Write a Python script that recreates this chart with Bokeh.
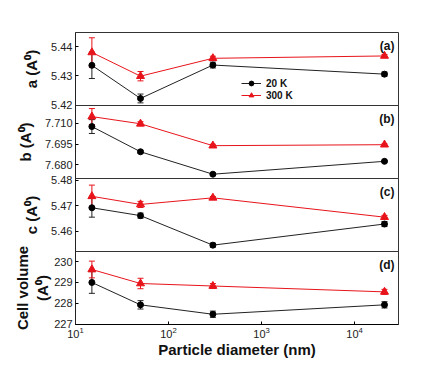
from bokeh.plotting import figure
from bokeh.models import (Range1d, FixedTicker, Whisker, ColumnDataSource, Label,
                          Legend, LegendItem, TeeHead)
from bokeh.layouts import column
from bokeh.embed import file_html
from bokeh.resources import INLINE

# ---- data ----
diam = [15, 50, 300, 21000]

a_20 = [5.4336, 5.4223, 5.4337, 5.4306]
a_20_err = [0.0045, 0.0015, 0.001, 0.0007]
a_300 = [5.4380, 5.4299, 5.4360, 5.4368]
a_300_err = [0.005, 0.0016, 0.0007, 0.0005]

b_20 = [7.7076, 7.6894, 7.6732, 7.6825]
b_20_err = [0.005, 0.001, 0.0007, 0.0006]
b_300 = [7.7148, 7.7096, 7.6938, 7.6945]
b_300_err = [0.0058, 0.0015, 0.001, 0.0006]

c_20 = [5.4692, 5.4661, 5.4545, 5.4628]
c_20_err = [0.0037, 0.001, 0.0008, 0.001]
c_300 = [5.4737, 5.4705, 5.4731, 5.4655]
c_300_err = [0.0044, 0.0012, 0.0005, 0.0007]

v_20 = [229.00, 227.93, 227.48, 227.93]
v_20_err = [0.52, 0.2, 0.15, 0.15]
v_300 = [229.62, 228.95, 228.83, 228.55]
v_300_err = [0.4, 0.25, 0.12, 0.12]

a_ticks = [5.42, 5.43, 5.44]
b_ticks = [7.680, 7.695, 7.710]
c_ticks = [5.46, 5.47, 5.48]
v_ticks = [227, 228, 229, 230]
x_ticks = [10, 100, 1000, 10000]

RED = "#e8141b"
FONT = "Liberation Sans"
X_RANGE = (10, 29700)
FRAME_H = 73


def panel(ys20, e20, ys300, e300, yr, ticks, ylabel, tag, fmt, mbt, mbb, overlap,
          bottom=False, legend=False, label_standoff=8):
    p = figure(width=426, height=FRAME_H + mbt + mbb, x_axis_type="log",
               x_range=Range1d(*X_RANGE), y_range=Range1d(*yr),
               output_backend="svg", toolbar_location=None)
    p.min_border_left = 75
    p.min_border_right = 28
    p.min_border_top = mbt
    p.min_border_bottom = mbb
    if overlap:
        p.margin = (-overlap, 0, 0, 0)
    p.grid.visible = False
    p.outline_line_color = "#333333"
    p.outline_line_width = 1
    p.background_fill_alpha = 0
    p.border_fill_alpha = 0

    ax = p.yaxis[0]
    ax.ticker = FixedTicker(ticks=ticks)
    ax.major_label_overrides = {t: fmt.format(t) for t in ticks}
    ax.minor_tick_line_color = None
    ax.major_tick_in = 3
    ax.major_tick_out = 0
    ax.axis_line_color = "#222222"
    ax.major_label_text_font = FONT
    ax.major_label_text_font_size = "11px"
    ax.major_label_text_color = "#222222"
    ax.major_label_standoff = 3
    ax.axis_label = ylabel
    ax.axis_label_text_font = FONT
    ax.axis_label_text_font_size = "15px"
    ax.axis_label_text_font_style = "bold"
    ax.axis_label_text_color = "#111111"
    ax.axis_label_standoff = label_standoff

    xa = p.xaxis[0]
    if bottom:
        xa.ticker = FixedTicker(ticks=x_ticks)
        xa.minor_tick_line_color = None
        xa.major_tick_in = 3
        xa.major_tick_out = 0
        xa.major_label_standoff = 2
        xa.major_label_text_font = FONT
        xa.major_label_text_font_size = "11px"
        xa.major_label_text_color = "#222222"
        xa.axis_label = "Particle diameter (nm)"
        xa.axis_label_text_font = FONT
        xa.axis_label_text_font_size = "15px"
        xa.axis_label_text_font_style = "bold"
        xa.axis_label_text_color = "#111111"
        xa.axis_label_standoff = 0
    else:
        xa.visible = False

    src20 = ColumnDataSource(dict(x=diam, y=ys20,
                                  lo=[y - e for y, e in zip(ys20, e20)],
                                  hi=[y + e for y, e in zip(ys20, e20)]))
    src300 = ColumnDataSource(dict(x=diam, y=ys300,
                                   lo=[y - e for y, e in zip(ys300, e300)],
                                   hi=[y + e for y, e in zip(ys300, e300)]))

    for src, col in ((src20, "#222222"), (src300, RED)):
        p.add_layout(Whisker(source=src, base="x", lower="lo", upper="hi",
                             line_color=col, line_width=1,
                             upper_head=TeeHead(size=6, line_color=col, line_width=1),
                             lower_head=TeeHead(size=6, line_color=col, line_width=1)))

    l20 = p.line("x", "y", source=src20, line_color="#222222", line_width=1)
    s20 = p.scatter("x", "y", source=src20, marker="circle", size=6,
                    fill_color="black", line_color="black")
    l300 = p.line("x", "y", source=src300, line_color=RED, line_width=1)
    s300 = p.scatter("x", "y", source=src300, marker="triangle", size=8,
                     fill_color=RED, line_color=RED)

    p.add_layout(Label(x=X_RANGE[1], y=yr[1], x_offset=-4, y_offset=-6,
                       text=tag, text_align="right", text_baseline="top",
                       text_font=FONT, text_font_size="12px",
                       text_font_style="bold", text_color="#111111"))

    if legend:
        lg = Legend(items=[LegendItem(label="20 K", renderers=[l20, s20]),
                           LegendItem(label="300 K", renderers=[l300, s300])],
                    location=(166, 4), orientation="vertical",
                    background_fill_alpha=0, border_line_color=None,
                    padding=0, margin=0, spacing=0,
                    glyph_width=20, glyph_height=12, label_height=12,
                    label_standoff=5,
                    label_text_font=FONT, label_text_font_size="10px",
                    label_text_font_style="bold", label_text_color="#111111")
        p.add_layout(lg)
    return p


pa = panel(a_20, a_20_err, a_300, a_300_err, (5.4199, 5.4448), a_ticks,
           "a (A\u2070)", "(a)", "{:.2f}", mbt=32, mbb=8, overlap=0, legend=True)
pb = panel(b_20, b_20_err, b_300, b_300_err, (7.6701, 7.7228), b_ticks,
           "b (A\u2070)", "(b)", "{:.3f}", mbt=8, mbb=8, overlap=16)
pc = panel(c_20, c_20_err, c_300, c_300_err, (5.452, 5.4807), c_ticks,
           "c (A\u2070)", "(c)", "{:.2f}", mbt=8, mbb=8, overlap=16)
pd = panel(v_20, v_20_err, v_300, v_300_err, (226.99, 230.48), v_ticks,
           "Cell volume\n(A\u2070)", "(d)", "{:.0f}", mbt=24, mbb=44, overlap=32,
           bottom=True, label_standoff=0)

layout = column(pa, pb, pc, pd, spacing=0)

open("out.html", "w").write(file_html(layout, INLINE))
